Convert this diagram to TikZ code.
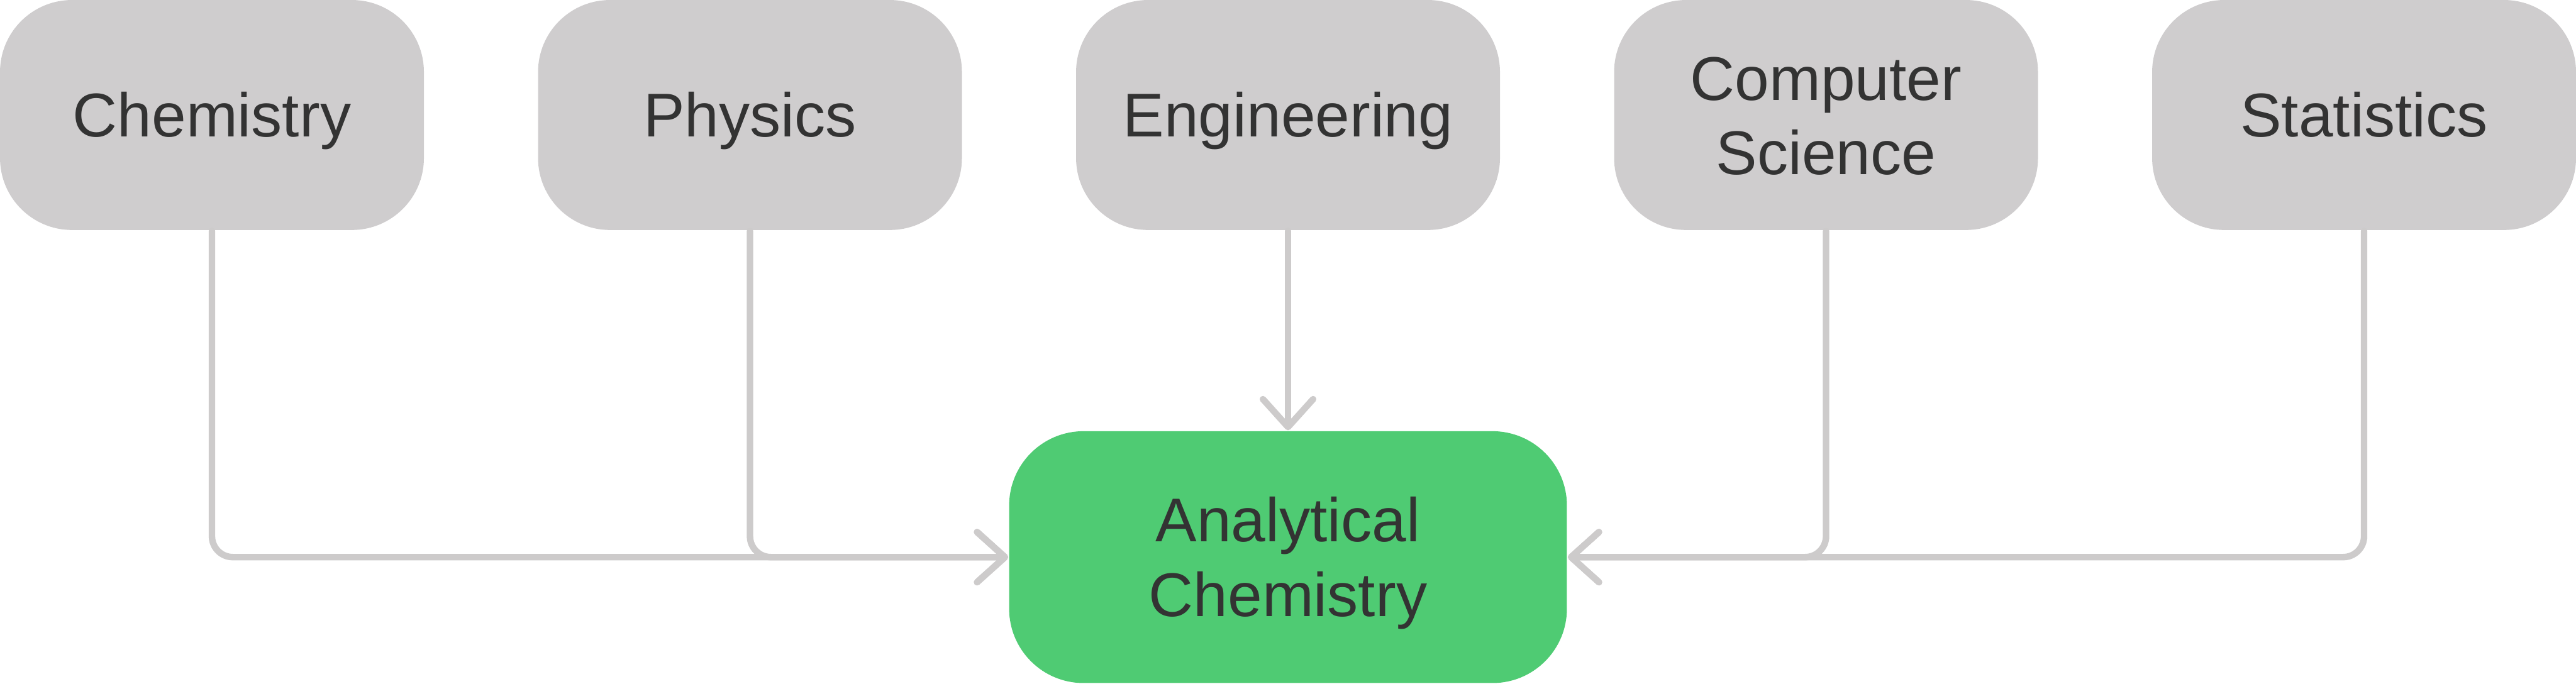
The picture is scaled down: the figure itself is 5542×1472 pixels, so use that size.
\documentclass[tikz,border=0pt]{standalone}
\usepackage{fontspec}
\setmainfont{Liberation Sans}
\usetikzlibrary{arrows.meta}
\definecolor{boxgray}{HTML}{CFCDCE}
\definecolor{boxgreen}{HTML}{4FCB73}
\definecolor{linegray}{HTML}{CDCBCB}
\definecolor{txt}{HTML}{333333}
\begin{document}
\begin{tikzpicture}[x=0.1pt,y=-0.1pt,
 field/.style={fill=boxgray, rounded corners=15.5pt, minimum width=91.2pt, minimum height=49.5pt, inner sep=0pt, draw=none},
 target/.style={fill=boxgreen, rounded corners=16pt, minimum width=120pt, minimum height=54.2pt, inner sep=0pt, draw=none},
 lbl/.style={anchor=base, text=txt, font=\fontsize{13.3}{16}\selectfont, inner sep=0pt},
 conn/.style={draw=linegray, line width=1.4pt, rounded corners=4.5pt, line cap=round, -{Straight Barb[length=6pt,width=10.8pt,round]}}]
\useasboundingbox (0,0) rectangle (5542,1472);
\node[field] (chem) at (456,247.5) {};
\node[field] (phys) at (1613.5,247.5) {};
\node[field] (eng) at (2771,247.5) {};
\node[field] (cs) at (3928.5,247.5) {};
\node[field] (stat) at (5086,247.5) {};
\node[target] (ac) at (2771,1199) {};
\node[lbl] (chemT) at (456,294) {Chemistry};
\node[lbl] (physT) at (1613.5,294) {Physics};
\node[lbl] (engT) at (2771,294) {Engineering};
\node[lbl] (csT1) at (3928.5,215.5) {Computer};
\node[lbl] (csT2) at (3928.5,375.5) {Science};
\node[lbl] (statT) at (5086,294) {Statistics};
\node[lbl] (acT1) at (2771,1166) {Analytical};
\node[lbl] (acT2) at (2771,1326) {Chemistry};
\draw[conn] (chem.south) |- (ac.west);
\draw[conn] (phys.south) |- (ac.west);
\draw[conn] (eng.south) -- (ac.north);
\draw[conn] (cs.south) |- (ac.east);
\draw[conn] (stat.south) |- (ac.east);
\end{tikzpicture}
\end{document}
